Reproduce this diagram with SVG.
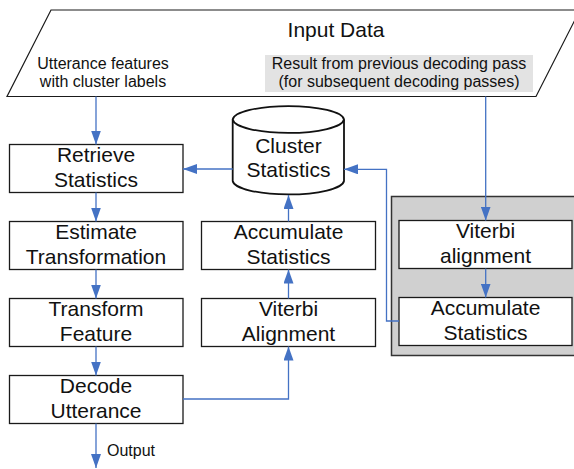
<svg xmlns="http://www.w3.org/2000/svg" width="574" height="469" viewBox="0 0 574 469">
  <style>
    .box { fill: #ffffff; stroke: #1a1a1a; stroke-width: 1.3; }
    .lbl { font-family: "Liberation Sans", Arial, sans-serif; font-size: 21px; fill: #111111; text-anchor: middle; }
    .small { font-family: "Liberation Sans", Arial, sans-serif; font-size: 16px; fill: #111111; text-anchor: middle; }
    .conn { fill: none; stroke: #4472c4; stroke-width: 1.3; }
  </style>
  <defs>
    <marker id="arrow" viewBox="0 0 14 10" refX="14" refY="5" markerWidth="14" markerHeight="10" markerUnits="userSpaceOnUse" orient="auto">
      <path d="M0,0 L14,5 L0,10 Z" fill="#4472c4"/>
    </marker>
  </defs>

  <!-- Input data parallelogram -->
  <g id="input-data">
    <polygon points="51,10 580,10 536,96.5 7,96.5" fill="#ffffff" stroke="#1a1a1a" stroke-width="1.2"/>
    <rect x="265" y="55" width="268" height="37" fill="#e3e3e3"/>
    <text class="lbl" x="336" y="37">Input Data</text>
    <text class="small" x="103" y="69">Utterance features</text>
    <text class="small" x="103" y="87">with cluster labels</text>
    <text class="small" x="399" y="69">Result from previous decoding pass</text>
    <text class="small" x="399" y="87">(for subsequent decoding passes)</text>
  </g>

  <!-- Subsequent-pass container -->
  <g id="subsequent-pass">
    <rect x="391.5" y="196.5" width="190" height="159" fill="#d0d0d0" stroke="#333333" stroke-width="1.5"/>
  </g>

  <!-- Left column -->
  <g id="retrieve-statistics">
    <rect class="box" x="9.5" y="144.5" width="173.5" height="48"/>
    <text class="lbl" x="96" y="162">Retrieve</text>
    <text class="lbl" x="96" y="187">Statistics</text>
  </g>
  <g id="estimate-transformation">
    <rect class="box" x="9.5" y="221.5" width="173.5" height="48"/>
    <text class="lbl" x="96" y="239">Estimate</text>
    <text class="lbl" x="96" y="264">Transformation</text>
  </g>
  <g id="transform-feature">
    <rect class="box" x="9.5" y="298.5" width="173.5" height="48"/>
    <text class="lbl" x="96" y="316">Transform</text>
    <text class="lbl" x="96" y="341">Feature</text>
  </g>
  <g id="decode-utterance">
    <rect class="box" x="9.5" y="375.5" width="173.5" height="48"/>
    <text class="lbl" x="96" y="393">Decode</text>
    <text class="lbl" x="96" y="418">Utterance</text>
  </g>

  <!-- Middle column -->
  <g id="cluster-statistics">
    <path d="M232.7,119.5 A55.7,14 0 0 1 344,119.5 L344,181 A55.7,14 0 0 1 232.7,181 Z" fill="#ffffff" stroke="#111111" stroke-width="1.8"/>
    <path d="M232.7,119.5 A55.7,14 0 0 0 344,119.5" fill="none" stroke="#111111" stroke-width="1.8"/>
    <text class="lbl" x="288.4" y="153">Cluster</text>
    <text class="lbl" x="288.4" y="177">Statistics</text>
  </g>
  <g id="accumulate-statistics">
    <rect class="box" x="201.5" y="221.5" width="174" height="48"/>
    <text class="lbl" x="288.5" y="239">Accumulate</text>
    <text class="lbl" x="288.5" y="264">Statistics</text>
  </g>
  <g id="viterbi-alignment">
    <rect class="box" x="201.5" y="298.5" width="174" height="48"/>
    <text class="lbl" x="288.5" y="316">Viterbi</text>
    <text class="lbl" x="288.5" y="341">Alignment</text>
  </g>

  <!-- Right column (inside container) -->
  <g id="viterbi-alignment-2">
    <rect class="box" x="399" y="220.5" width="173" height="48"/>
    <text class="lbl" x="485.5" y="238">Viterbi</text>
    <text class="lbl" x="485.5" y="263">alignment</text>
  </g>
  <g id="accumulate-statistics-2">
    <rect class="box" x="399" y="297.5" width="173" height="48"/>
    <text class="lbl" x="485.5" y="315">Accumulate</text>
    <text class="lbl" x="485.5" y="340">Statistics</text>
  </g>

  <!-- Connectors -->
  <g id="connectors">
    <path class="conn" d="M96,96.5 V144.5" marker-end="url(#arrow)"/>
    <path class="conn" d="M96,192.5 V221.5" marker-end="url(#arrow)"/>
    <path class="conn" d="M96,269.5 V298.5" marker-end="url(#arrow)"/>
    <path class="conn" d="M96,346.5 V375.5" marker-end="url(#arrow)"/>
    <path class="conn" d="M96,423.5 V468" marker-end="url(#arrow)"/>
    <path class="conn" d="M183,399 H288.5 V346.5" marker-end="url(#arrow)"/>
    <path class="conn" d="M288.5,298.5 V269.5" marker-end="url(#arrow)"/>
    <path class="conn" d="M288.5,221.5 V195" marker-end="url(#arrow)"/>
    <path class="conn" d="M232.7,169 H183" marker-end="url(#arrow)"/>
    <path class="conn" d="M399,321 H386.5 V169.3 H344" marker-end="url(#arrow)"/>
    <path class="conn" d="M485.7,96.5 V220.5" marker-end="url(#arrow)"/>
    <path class="conn" d="M485.7,268.5 V297.5" marker-end="url(#arrow)"/>
    <text class="small" x="107" y="456" text-anchor="start" style="text-anchor:start">Output</text>
  </g>
</svg>
